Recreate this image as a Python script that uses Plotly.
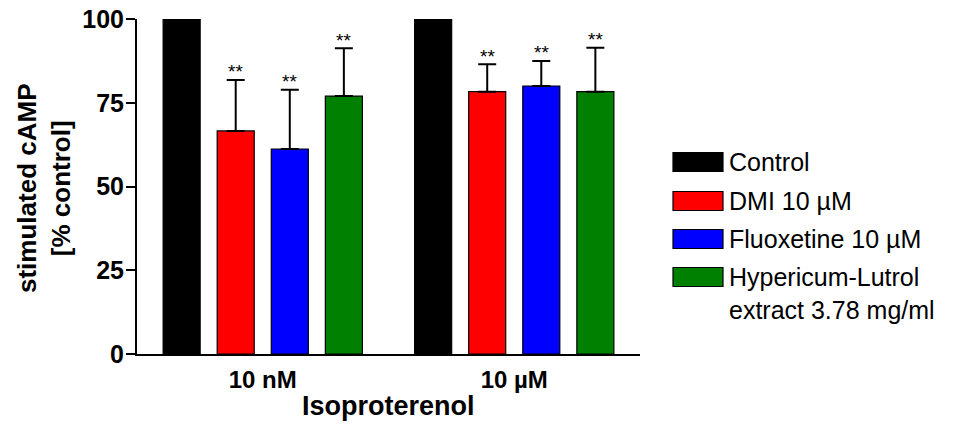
import plotly.graph_objects as go

groups = ["10 nM", "10 µM"]
series = ["Control", "DMI 10 µM", "Fluoxetine 10 µM", "Hypericum-Lutrol<br>extract 3.78 mg/ml"]
colors = ["#000000", "#FF0000", "#0000FF", "#008000"]
control = [100, 100]
dmi = [66.6, 78.3]
fluoxetine = [61.2, 80.0]
hypericum = [77.0, 78.3]
dmi_err = [15.2, 8.2]
fluox_err = [17.7, 7.5]
hyper_err = [14.3, 13.1]
stars = ["**", "**", "**", "**"]

values = [control, dmi, fluoxetine, hypericum]
errors = [None, dmi_err, fluox_err, hyper_err]

FONT = "Liberation Sans, Arial, sans-serif"
W, H = 954, 425
L, R, T, B = 137, 314, 19, 71
PW, PH = W - L - R, H - T - B

def px(x):
    return (x - L) / PW

def py(y):
    return (H - B - y) / PH

fig = go.Figure()
for name, vals, err, col in zip(series, values, errors, colors):
    kw = {}
    if err is not None:
        kw["error_y"] = dict(type="data", array=err, arrayminus=[0] * len(err),
                             symmetric=False, color="black", thickness=2, width=9)
    fig.add_trace(go.Bar(x=groups, y=vals, name=name, marker_color=col,
                         marker_line=dict(color="black", width=1.2),
                         showlegend=False, **kw))

annotations = []
slot = 54
for si, (vals, err) in enumerate(zip(values, errors)):
    if err is None:
        continue
    for gi, g in enumerate(groups):
        annotations.append(dict(x=g, y=vals[gi] + err[gi], xref="x", yref="y",
                                text=stars[si], showarrow=False,
                                xshift=(si - 1.5) * slot, yshift=8, yanchor="middle",
                                font=dict(family=FONT, size=19, color="black")))

# legend (custom)
leg_y = [162, 201, 239, 277]
shapes = []
for i, (name, col) in enumerate(zip(series, colors)):
    cy = leg_y[i]
    shapes.append(dict(type="rect", xref="paper", yref="paper",
                       x0=px(673), x1=px(723), y0=py(cy + 9.5), y1=py(cy - 9.5),
                       fillcolor=col, line=dict(color="black", width=1.2)))
    annotations.append(dict(x=px(727), y=py(cy - 16), xref="paper", yref="paper",
                            text=name, showarrow=False, xanchor="left", yanchor="top",
                            align="left",
                            font=dict(family=FONT, size=25, color="black")))

annotations.append(dict(x=px(44), y=py(188), xref="paper", yref="paper",
                        text="<b>stimulated cAMP<br>[% control]</b>", textangle=-90,
                        showarrow=False, xanchor="center", yanchor="middle",
                        font=dict(family=FONT, size=26, color="black")))
annotations.append(dict(x=0.5, y=py(406), xref="paper", yref="paper",
                        text="<b>Isoproterenol</b>", showarrow=False,
                        xanchor="center", yanchor="middle",
                        font=dict(family=FONT, size=27, color="black")))

fig.update_layout(
    width=W, height=H,
    margin=dict(l=L, r=R, t=T, b=B, autoexpand=False),
    paper_bgcolor="white", plot_bgcolor="white",
    barmode="group", bargap=0.14, bargroupgap=0.315,
    annotations=annotations, shapes=shapes,
    xaxis=dict(range=[-0.5, 1.5], showline=True, linecolor="black", linewidth=2,
               ticks="", showgrid=False, zeroline=False,
               tickfont=dict(family=FONT, size=24, color="black", weight="bold"),
               ticklabelstandoff=3),
    yaxis=dict(range=[0, 100], tickvals=[0, 25, 50, 75, 100], showline=True,
               linecolor="black", linewidth=2, ticks="outside", ticklen=9,
               tickwidth=2, tickcolor="black", showgrid=False, zeroline=False,
               tickfont=dict(family=FONT, size=25, color="black", weight="bold"),
               ticklabelstandoff=-3),
)

fig.write_html("out.html")
